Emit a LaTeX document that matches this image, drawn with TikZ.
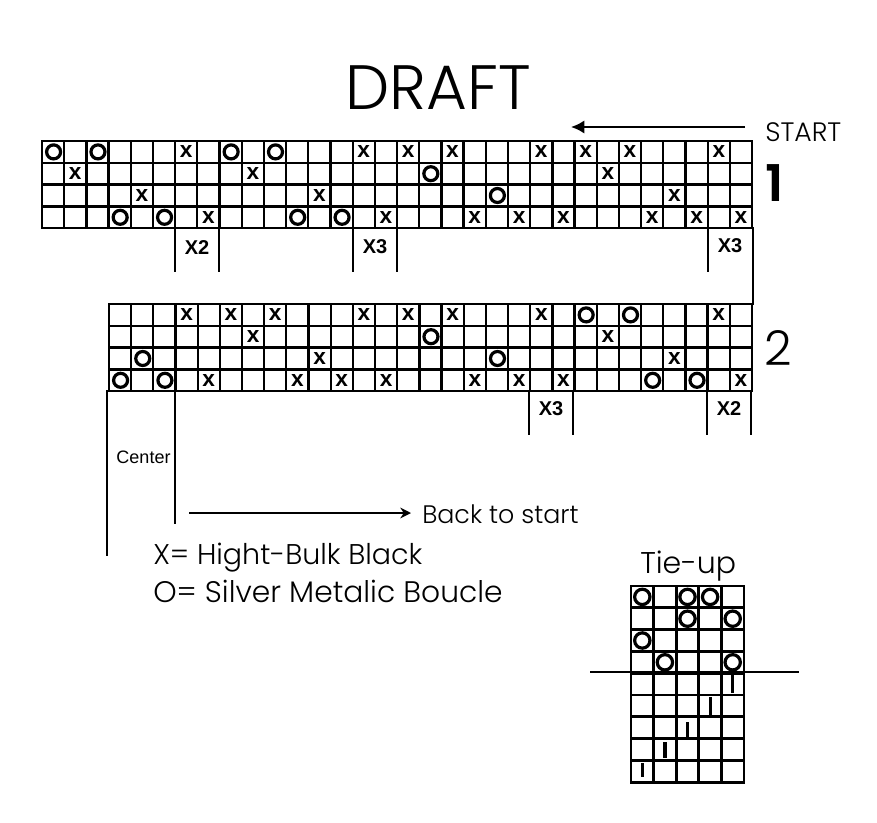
\documentclass[tikz,border=0pt]{standalone}
\usepackage{fontspec}
\usepackage{xcolor}
\usetikzlibrary{arrows.meta,positioning}
\setmainfont{Poppins}[UprightFont=* Light,BoldFont=* SemiBold]
\newfontfamily\arialfont{Liberation Sans}

\begin{document}
\begin{tikzpicture}[
            x=0.75pt, y=-0.75pt,
            linea/.style={line width=1.7pt, line cap=rect},
            lineaT/.style={line width=2.1pt, line cap=rect},
            marcaX/.style={inner sep=0pt, font=\arialfont\bfseries\fontsize{17}{17}\selectfont},
            marcaO/.style={draw, circle, line width=2.4pt, inner sep=0pt, minimum size=10.5pt},
            marcaT/.style={marcaO, minimum size=11.5pt},
            veces/.style={inner sep=0pt, font=\arialfont\bfseries\fontsize{15}{15}\selectfont},
            leyenda/.style={anchor=base west, inner sep=0pt, font=\fontsize{22}{22}\selectfont},
            flecha/.style={-{Latex[length=10pt,width=10pt]}, line width=1.6pt},
            flechaB/.style={-{Stealth[length=8pt,width=8pt]}, line width=1.6pt}
        ]
\path[fill=white, use as bounding box] (0,0) rectangle (877,823);

\node[anchor=base west, inner sep=0pt, font=\fontsize{47}{47}\selectfont] (titulo) at (345,110) {DRAFT};
\node[anchor=base west, inner sep=0pt, font=\fontsize{20}{20}\selectfont] (start) at (765,142) {START};
\node[anchor=base west, inner sep=0pt, font=\bfseries\fontsize{38}{38}\selectfont] (uno) at (765,202) {1};
\node[anchor=base west, inner sep=0pt, font=\fontsize{36}{36}\selectfont] (dos) at (764,365) {2};
\coordinate (colaStart) at (745,127);
\coordinate (puntaStart) at (571,127);
\draw[flecha] (colaStart) -- (puntaStart);

% rejilla 1
\foreach \c in {0,...,32} \draw[linea] ({42+22.19*\c},141) -- ({42+22.19*\c},228);
\foreach \r in {0,...,4} \draw[linea] (42,{141+21.8*\r}) -- (752,{141+21.8*\r});
\foreach \c/\r in {6/0,14/0,16/0,18/0,22/0,24/0,26/0,30/0,1/1,9/1,25/1,4/2,12/2,28/2,7/3,15/3,19/3,21/3,23/3,27/3,29/3,31/3}
    \node[marcaX] (a\c) at ({42+22.19*(\c+.5)},{141+21.8*(\r+.5)}) {x};
\foreach \c/\r in {0/0,2/0,8/0,10/0,17/1,20/2,3/3,5/3,11/3,13/3}
    \node[marcaO] (a\c) at ({42.5+22.19*(\c+.5)},{141+21.8*(\r+.5)}) {};

% rejilla 2
\foreach \c in {0,...,29} \draw[linea] ({109+22.17*\c},304) -- ({109+22.17*\c},391);
\foreach \r in {0,...,4} \draw[linea] (109,{304+21.8*\r}) -- (752,{304+21.8*\r});
\foreach \c/\r in {3/0,5/0,7/0,11/0,13/0,15/0,19/0,27/0,6/1,22/1,9/2,25/2,4/3,8/3,10/3,12/3,16/3,18/3,20/3,28/3}
    \node[marcaX] (b\c) at ({109+22.17*(\c+.5)},{304+21.8*(\r+.5)}) {x};
\foreach \c/\r in {21/0,23/0,14/1,1/2,17/2,0/3,2/3,24/3,26/3}
    \node[marcaO] (b\c) at ({109.5+22.17*(\c+.5)},{304+21.8*(\r+.5)}) {};

% repeticiones
\foreach \xa/\xb/\ya/\yb in {175/219/228/271,353/397/228/271,708/753/228/271,529/573/391/434,707/751/391/434}{
    \draw[linea] (\xa,\ya) -- (\xa,\yb);
    \draw[linea] (\xb,\ya) -- (\xb,\yb);
}
\draw[linea] (753,271) -- (753,304);
\node[veces] (x2a) at (197,248) {X2};
\node[veces] (x3a) at (375,247) {X3};
\node[veces] (x3b) at (730,246) {X3};
\node[veces] (x3c) at (551,409) {X3};
\node[veces] (x2b) at (729,409) {X2};

\draw[linea] (107,391) -- (107,555);
\draw[line width=1.2pt] (175,391) -- (175,524);
\node[inner sep=0pt, font=\arialfont\fontsize{13.5}{13.5}\selectfont] (centro) at (143.5,457) {Center};
\node[leyenda, font=\fontsize{19}{19}\selectfont] (volver) at (422,523) {Back to start};
\coordinate (colaVolver) at (189,513);
\coordinate (puntaVolver) at (411,513);
\draw[flechaB] (colaVolver) -- (puntaVolver);
\node[leyenda, font=\fontsize{21.4}{22}\selectfont] (leyX) at (153,564) {X= Hight-Bulk Black};
\node[leyenda, font=\fontsize{22.3}{22}\selectfont] (leyO) at (153,602) {O= Silver Metalic Boucle};

% tie-up
\node[anchor=base west, inner sep=0pt, font=\fontsize{22.5}{22}\selectfont] (tieup) at (640,573) {Tie-up};
\foreach \c in {0,...,5} \draw[lineaT] ({631+22.6*\c},586) -- ({631+22.6*\c},782);
\foreach \r in {0,...,9} \draw[lineaT] (631,{586+21.8*\r}) -- (744,{586+21.8*\r});
\draw[linea] (591,672) -- (798,672);
\foreach \c/\r in {0/0,2/0,3/0,2/1,4/1,0/2,1/3,4/3}
    \node[marcaT] (t\c\r) at ({631+22.6*(\c+.5)},{586+21.8*(\r+.5)}) {};
\foreach \c/\ya/\yb in {4/675/693,3/697/715,2/722/737,1/742/758,0/763/777}
    \draw[line width=2.4pt] ({631+22.6*(\c+.5)},\ya) -- ({631+22.6*(\c+.5)},\yb);
\end{tikzpicture}
\end{document}
